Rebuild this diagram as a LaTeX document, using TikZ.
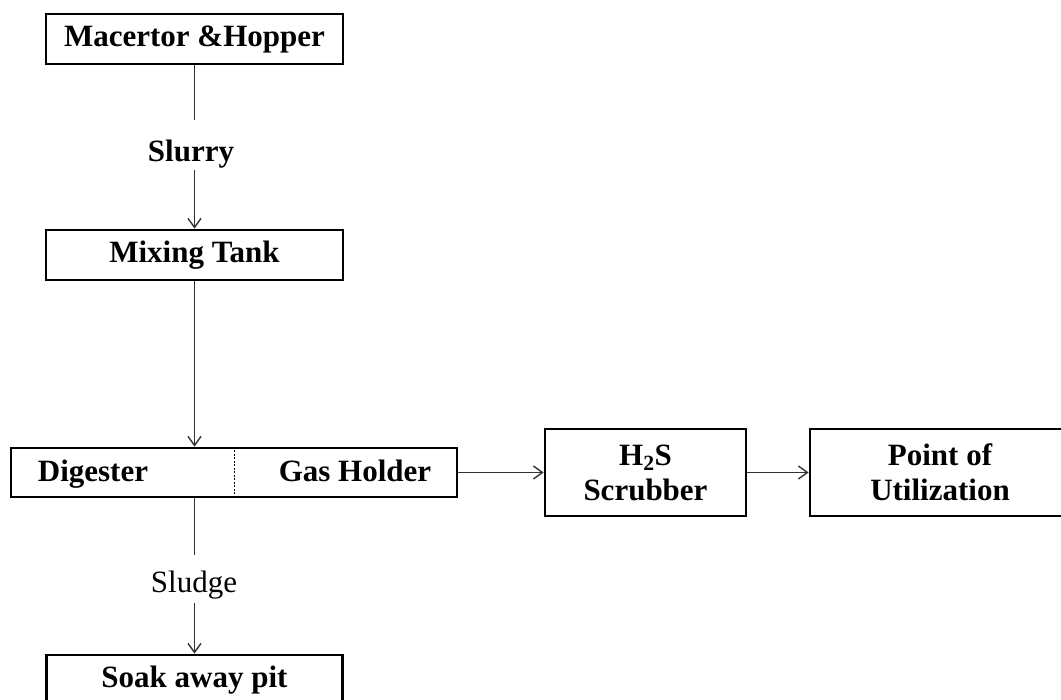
\documentclass[tikz,border=0pt]{standalone}
\usepackage{fontspec}
\setmainfont{Liberation Serif}
\usetikzlibrary{arrows.meta}
\begin{document}
\begin{tikzpicture}[x=1pt,y=-1pt,
  box/.style={draw, line width=2.8pt, inner sep=0pt, align=center,
    font=\fontsize{31}{35}\selectfont\bfseries},
  lbl/.style={inner sep=0pt, anchor=base, font=\fontsize{31}{35}\selectfont\bfseries},
  conn/.style={line width=1.4pt, draw=black!80},
  arr/.style={conn, -{Straight Barb[length=9pt,width=13pt,line width=1.4pt]}}
]
\clip (0,0) rectangle (1061,700);
\fill[white] (0,0) rectangle (1061,700);
% nodes
\node[box, minimum width=297pt, minimum height=50pt] (mac) at (194.5,39) {Macertor \&Hopper};
\node[lbl] (slurry) at (191,162) {Slurry};
\node[box, minimum width=297pt, minimum height=50pt] (mix) at (194.5,255) {Mixing Tank};
\node[box, minimum width=446pt, minimum height=49pt] (dig) at (234,472.5) {};
\node[lbl] (digl) at (93,482) {Digester};
\node[lbl] (gasl) at (355,482) {Gas Holder};
\node[box, minimum width=201pt, minimum height=87pt] (h2s) at (645.5,472.5) {H\textsubscript{2}S\\Scrubber};
\node[box, minimum width=260pt, minimum height=87pt] (pou) at (940,472.5) {Point of\\Utilization};
\node[inner sep=0pt, anchor=base, font=\fontsize{31}{35}\selectfont] (sludge) at (194,592) {Sludge};
\node[box, minimum width=296pt, minimum height=50pt] (soak) at (194.5,680) {Soak away pit};
% gap ends of the labelled connectors
\coordinate (s1) at (194.5,120);
\coordinate (s2) at (194.5,170);
\coordinate (g1) at (194.5,555);
\coordinate (g2) at (194.5,603);
% divider
\draw[line width=1pt, dash pattern=on 2pt off 1.5pt] (dig.north) -- (dig.south);
% connectors
\draw[conn] (mac.south) -- (s1);
\draw[arr] (s2) -- (mix.north);
\draw[arr] (mix.south) -- (mix.south |- dig.north);
\draw[conn] (mix.south |- dig.south) -- (g1);
\draw[arr] (g2) -- (soak.north);
\draw[arr] (dig.east) -- (h2s.west);
\draw[arr] (h2s.east) -- (pou.west);
\end{tikzpicture}
\end{document}
